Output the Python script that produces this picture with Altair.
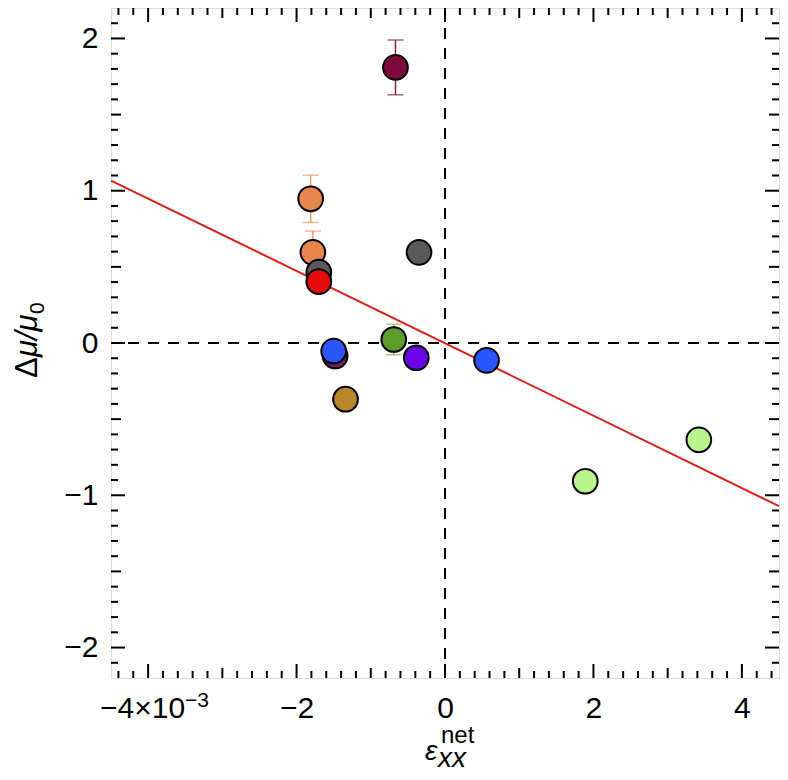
import altair as alt
import numpy as np
import pandas as pd

# ---- data ----
strain = [-1.81, -1.78, -1.70, -1.70, -0.667, -0.35, -0.69, -0.387, -1.48, -1.50, -1.34, 0.56, 1.89, 3.42]
dmu = [0.947, 0.595, 0.465, 0.403, 1.81, 0.595, 0.023, -0.097, -0.085, -0.053, -0.369, -0.114, -0.908, -0.636]
err = [0.155, 0.14, 0, 0, 0.18, 0, 0.10, 0, 0, 0, 0, 0, 0, 0]
fill_colors = ["#e8864c", "#e8864c", "#5a5a5a", "#e60a0a", "#7d0a3f", "#5a5a5a", "#5f9a2c",
               "#6a05e6", "#7a1a70", "#2a55ff", "#b8862b", "#2a55ff", "#b8f58c", "#b8f58c"]
err_colors = ["#f09a68", "#f09a68", "#5a5a5a", "#e60a0a", "#8b2050", "#5a5a5a", "#8ab25a",
              "#6a05e6", "#7a1a70", "#2a55ff", "#b8862b", "#2a55ff", "#b8f58c", "#b8f58c"]
fit_x = [-4.5, 4.5]
fit_y = [1.067, -1.071]
x_label_values = [-2, 0, 2, 4]
x_first_label = [-4]
y_label_values = [-2, -1, 0, 1, 2]

XMIN, XMAX = -4.5, 4.5
YMIN, YMAX = -2.2, 2.2
W, H = 668, 670
FONT = "Liberation Sans"
LFS = 30

pts = pd.DataFrame({"x": strain, "y": dmu, "err": err, "c": fill_colors, "ec": err_colors})
pts["order"] = range(len(pts))
pts["lo"] = pts["y"] - pts["err"]
pts["hi"] = pts["y"] + pts["err"]
errs = pts[pts["err"] > 0]

xs = alt.Scale(domain=[XMIN, XMAX], nice=False, zero=False)
ys = alt.Scale(domain=[YMIN, YMAX], nice=False, zero=False)

xaxis = alt.Axis(values=x_label_values, ticks=False, domain=False, grid=False, format="d",
                 labelFont=FONT, labelFontSize=LFS, labelColor="black", labelPadding=15,
                 title=None)
yaxis = alt.Axis(values=y_label_values, ticks=False, domain=False, grid=False, format="d",
                 labelFont=FONT, labelFontSize=LFS, labelColor="black", labelPadding=13,
                 title=None)

# ---- inward ticks on all four sides ----
xt = np.round(np.arange(-4.4, 4.41, 0.2), 1)
xlen = [14 if abs(v % 2) < 1e-6 or abs(v % 2 - 2) < 1e-6 else (10 if abs(v - round(v)) < 1e-6 else 7) for v in xt]
yt = np.round(np.arange(-2.1, 2.11, 0.1), 1)
ylen = [14 if abs(v - round(v)) < 1e-6 else (10 if abs(v * 2 - round(v * 2)) < 1e-6 else 7) for v in yt]
dy = (YMAX - YMIN) / H
dx = (XMAX - XMIN) / W
xtick_df = pd.DataFrame({"v": xt, "L": xlen})
ytick_df = pd.DataFrame({"v": yt, "L": ylen})
bot = xtick_df.assign(a=YMIN, b=YMIN + xtick_df["L"] * dy)
top = xtick_df.assign(a=YMAX, b=YMAX - xtick_df["L"] * dy)
lef = ytick_df.assign(a=XMIN, b=XMIN + ytick_df["L"] * dx)
rig = ytick_df.assign(a=XMAX, b=XMAX - ytick_df["L"] * dx)
xticks_df = pd.concat([bot, top])
yticks_df = pd.concat([lef, rig])

xticks = alt.Chart(xticks_df).mark_rule(color="black", strokeWidth=2).encode(
    x=alt.X("v:Q", scale=xs, axis=xaxis), y=alt.Y("a:Q", scale=ys, axis=yaxis), y2="b:Q")
yticks = alt.Chart(yticks_df).mark_rule(color="black", strokeWidth=2).encode(
    y=alt.Y("v:Q", scale=ys), x=alt.X("a:Q", scale=xs), x2="b:Q")

zero_df = pd.DataFrame({"z": [0]})
vline = alt.Chart(zero_df).mark_rule(color="black", strokeWidth=2, strokeDash=[11, 9]).encode(
    x=alt.X("z:Q", scale=xs))
hline = alt.Chart(zero_df).mark_rule(color="black", strokeWidth=2, strokeDash=[11, 9]).encode(
    y=alt.Y("z:Q", scale=ys))

fit = alt.Chart(pd.DataFrame({"x": fit_x, "y": fit_y})).mark_line(color="#d8201a", strokeWidth=2).encode(
    x=alt.X("x:Q", scale=xs), y=alt.Y("y:Q", scale=ys))

ebars = alt.Chart(errs).mark_rule(strokeWidth=1.5).encode(
    x=alt.X("x:Q", scale=xs), y=alt.Y("lo:Q", scale=ys), y2="hi:Q",
    color=alt.Color("ec:N", scale=None))
caps_lo = alt.Chart(errs).mark_tick(orient="horizontal", size=16, thickness=1.5).encode(
    x=alt.X("x:Q", scale=xs), y=alt.Y("lo:Q", scale=ys), color=alt.Color("ec:N", scale=None))
caps_hi = alt.Chart(errs).mark_tick(orient="horizontal", size=16, thickness=1.5).encode(
    x=alt.X("x:Q", scale=xs), y=alt.Y("hi:Q", scale=ys), color=alt.Color("ec:N", scale=None))

points = alt.Chart(pts).mark_circle(size=610, stroke="black", strokeWidth=2, opacity=1).encode(
    x=alt.X("x:Q", scale=xs), y=alt.Y("y:Q", scale=ys),
    color=alt.Color("c:N", scale=None), order=alt.Order("order:Q"))

# first x label "−4×10⁻³" built from a main text and a superscript
first_df = pd.DataFrame({"v": x_first_label})
lab_main = alt.Chart(first_df).mark_text(
    text="\u22124\u00d710", font=FONT, fontSize=LFS, align="right", baseline="alphabetic",
    dx=37, color="black").encode(x=alt.X("v:Q", scale=xs), y=alt.value(710))
lab_sup = alt.Chart(first_df).mark_text(
    text="\u22123", font=FONT, fontSize=21, align="left", baseline="alphabetic",
    dx=37, color="black").encode(x=alt.X("v:Q", scale=xs), y=alt.value(699))

one = pd.DataFrame({"a": [0]})
def txt(s, x, y, size, style="normal", angle=0, align="left"):
    return alt.Chart(one).mark_text(text=s, font=FONT, fontSize=size, fontStyle=style, angle=angle,
                                    align=align, baseline="alphabetic", color="black").encode(
        x=alt.value(x), y=alt.value(y))

# x title: eps_xx^net
t1 = txt("\u03b5", 314, 752, 28, "italic")
t2 = txt("xx", 327, 759, 28, "italic")
t3 = txt("net", 330, 735, 24)
# y title: Delta mu / mu_0 (rotated)
t4 = txt("\u0394", -74, 370, 31, angle=270)
t5 = txt("\u03bc/\u03bc", -74, 349, 31, "italic", angle=270)
t6 = txt("0", -67, 306, 21, angle=270)

chart = alt.layer(xticks, yticks, vline, hline, fit, ebars, caps_lo, caps_hi, points,
                  lab_main, lab_sup, t1, t2, t3, t4, t5, t6).properties(
    width=W, height=H,
    padding={"left": 103, "top": 0, "right": 1, "bottom": 94},
    autosize=alt.AutoSizeParams(type="none"),
).configure_view(stroke="black", strokeWidth=2.5).configure(background="white")

chart.save("out.html", embed_options={"renderer": "svg", "actions": False})
